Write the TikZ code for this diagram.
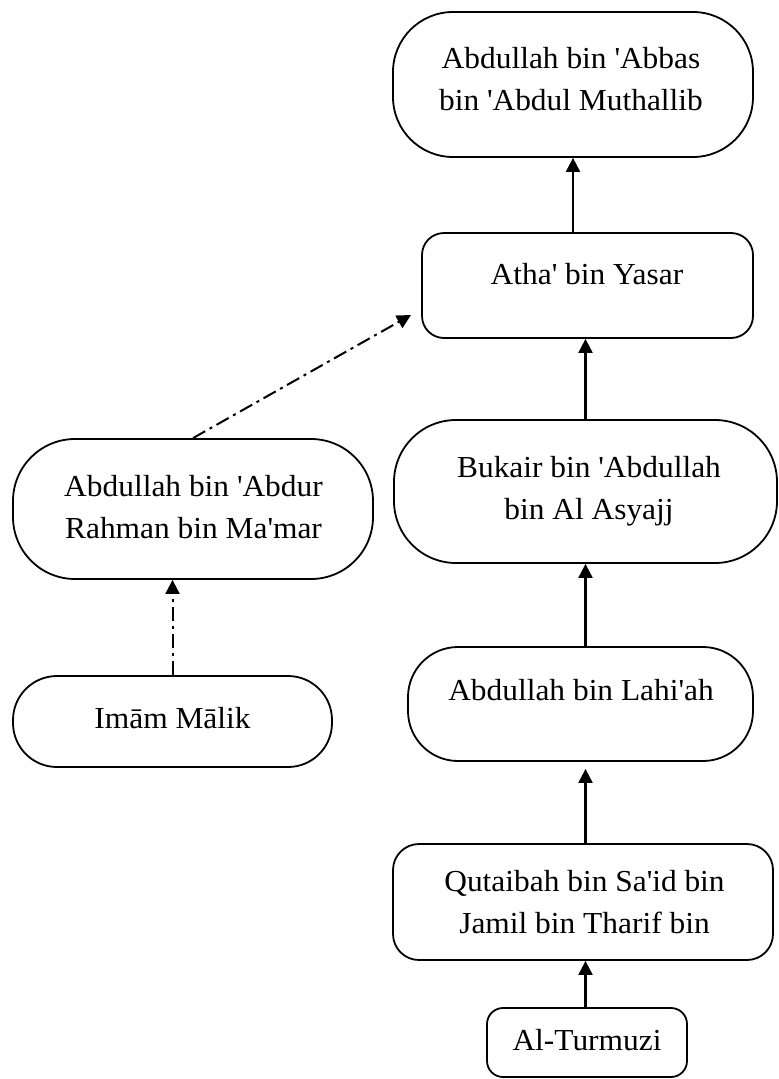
\documentclass[tikz,border=0pt]{standalone}
\usepackage{fontspec}
\setmainfont{Liberation Serif}[FakeStretch=1.03]
\usetikzlibrary{arrows.meta}
\newcommand{\q}{\textquotesingle}
\begin{document}
\begin{tikzpicture}[x=1pt,y=-1pt,
  box/.style={draw=black,line width=1.8pt,fill=white,inner sep=0pt},
  txt/.style={anchor=base,align=center,inner sep=0pt,font=\fontsize{30.5}{42}\selectfont},
  arr/.style={line width=2.2pt,-{Triangle[length=14pt,width=14pt]}},
  dd/.style={line width=2pt,dash pattern=on 14pt off 5pt on 3pt off 5pt,-{Triangle[length=14pt,width=14pt]}}]
\useasboundingbox (0,0) rectangle (779,1079);
% boxes
\node[box,rounded corners=60pt,minimum width=360pt,minimum height=145pt] (abbas) at (573,84.5) {};
\node[box,rounded corners=22pt,minimum width=331pt,minimum height=105pt] (atha) at (587.5,285.5) {};
\node[box,rounded corners=62pt,minimum width=383pt,minimum height=143pt] (bukair) at (585.5,491.5) {};
\node[box,rounded corners=50pt,minimum width=345pt,minimum height=114pt] (lahiah) at (580.5,704) {};
\node[box,rounded corners=26pt,minimum width=380pt,minimum height=116pt] (qutaibah) at (583,902) {};
\node[box,rounded corners=16pt,minimum width=200pt,minimum height=69pt] (turmuzi) at (587,1042.5) {};
\node[box,rounded corners=62pt,minimum width=360pt,minimum height=140pt] (abdur) at (193,509) {};
\node[box,rounded corners=44pt,minimum width=319pt,minimum height=91pt] (malik) at (172.5,721.5) {};
% texts (anchor base = baseline of last line)
\node[txt] (tabbas) at (571,110) {Abdullah bin \q Abbas\\bin \q Abdul Muthallib};
\node[txt] (tatha) at (587,284) {Atha\q{} bin Yasar};
\node[txt] (tbukair) at (589,519) {Bukair bin \q Abdullah\\bin Al Asyajj};
\node[txt] (tlahiah) at (581,700) {Abdullah bin Lahi\q ah};
\node[txt] (tqutaibah) at (584.5,933) {Qutaibah bin Sa\q id bin\\Jamil bin Tharif bin};
\node[txt] (tturmuzi) at (587,1050) {Al-Turmuzi};
\node[txt] (tabdur) at (193.5,538) {Abdullah bin \q Abdur\\Rahman bin Ma\q mar};
\node[txt] (tmalik) at (172.5,728) {Imām Mālik};
% connectors
\coordinate (free) at (411,315);
\draw[arr] (atha.north -| abbas.south) -- (abbas.south);
\draw[arr] (bukair.north) -- (bukair.north |- atha.south);
\draw[arr] (lahiah.north -| bukair.south) -- (bukair.south);
\draw[arr,shorten >=7pt] (qutaibah.north -| bukair.south) -- (bukair.south |- lahiah.south);
\draw[arr] (turmuzi.north -| bukair.south) -- (bukair.south |- qutaibah.south);
\draw[dd] (malik.north) -- (malik.north |- abdur.south);
\draw[dd] (abdur.north) -- (free);
\end{tikzpicture}
\end{document}
